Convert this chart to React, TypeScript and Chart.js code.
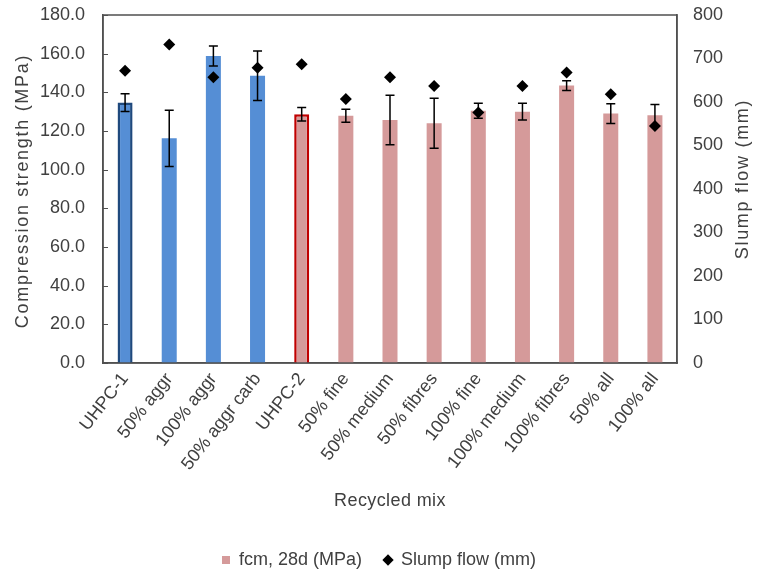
import React, { useEffect, useRef } from "react";
import { Chart, registerables } from "chart.js";

Chart.register(...registerables);

const categories = [
  "UHPC-1",
  "50% aggr",
  "100% aggr",
  "50% aggr carb",
  "UHPC-2",
  "50% fine",
  "50% medium",
  "50% fibres",
  "100% fine",
  "100% medium",
  "100% fibres",
  "50% all",
  "100% all",
];
const strength = [134.7, 116.2, 158.8, 148.6, 128.7, 127.9, 125.7, 124.0, 130.5, 130.0, 143.5, 129.0, 128.1];
const strengthErr = [4.6, 14.5, 5.2, 12.8, 3.5, 3.4, 12.8, 12.9, 3.9, 4.3, 2.5, 5.1, 5.6];
const slump = [672, 732, 657, 679, 687, 607, 657, 637, 576, 637, 668, 618, 545];
const groups = ["A", "A", "A", "A", "B", "B", "B", "B", "B", "B", "B", "B", "B"];
const references = [true, false, false, false, true, false, false, false, false, false, false, false, false];

const BLUE = "#558ED5";
const PINK = "#D59A9A";
const NAVY = "#1F497D";
const RED = "#C00000";
const TEXT = "#404040";
const AXIS = "#505050";
const FONT = "'Liberation Sans', Arial, sans-serif";

const barFill = groups.map((g) => (g === "A" ? BLUE : PINK));
const barBorder = groups.map((g, i) => (references[i] ? (g === "A" ? NAVY : RED) : "rgba(0,0,0,0)"));
const barBorderWidth = references.map((r) => (r ? 2.5 : 0));

const extrasPlugin = {
  id: "extras",
  afterDatasetDraw(chart: any, args: any) {
    if (args.index !== 0) return;
    const ctx = chart.ctx;
    const y = chart.scales.y;
    const meta = chart.getDatasetMeta(0);
    ctx.save();
    ctx.strokeStyle = "#000";
    ctx.lineWidth = 1.5;
    meta.data.forEach((bar: any, i: number) => {
      const top = y.getPixelForValue(strength[i] + strengthErr[i]);
      const bot = y.getPixelForValue(strength[i] - strengthErr[i]);
      const x = bar.x;
      ctx.beginPath();
      ctx.moveTo(x, top);
      ctx.lineTo(x, bot);
      ctx.moveTo(x - 4.5, top);
      ctx.lineTo(x + 4.5, top);
      ctx.moveTo(x - 4.5, bot);
      ctx.lineTo(x + 4.5, bot);
      ctx.stroke();
    });
    ctx.restore();
  },
  afterDraw(chart: any) {
    const ctx = chart.ctx;
    const a = chart.chartArea;
    const y = chart.scales.y;
    ctx.save();
    ctx.strokeStyle = AXIS;
    ctx.lineWidth = 1.5;
    ctx.strokeRect(a.left, a.top, a.right - a.left, a.bottom - a.top);
    ctx.beginPath();
    y.ticks.forEach((t: any) => {
      const py = Math.round(y.getPixelForValue(t.value)) + 0.5;
      ctx.moveTo(a.left, py);
      ctx.lineTo(a.left + 5, py);
    });
    ctx.lineWidth = 1;
    ctx.stroke();

    ctx.fillStyle = TEXT;
    ctx.font = `18px ${FONT}`;
    ctx.textAlign = "center";
    ctx.textBaseline = "middle";
    const midY = (a.top + a.bottom) / 2;
    (ctx as any).letterSpacing = "1.7px";
    ctx.save();
    ctx.translate(23, midY + 2);
    ctx.rotate(-Math.PI / 2);
    ctx.fillText("Compression strength (MPa)", 0, 0);
    ctx.restore();
    ctx.save();
    ctx.translate(743, midY - 10);
    ctx.rotate(-Math.PI / 2);
    ctx.fillText("Slump flow (mm)", 0, 0);
    ctx.restore();
    (ctx as any).letterSpacing = "0.4px";
    ctx.fillText("Recycled mix", (a.left + a.right) / 2, a.bottom + 138);
    ctx.restore();
  },
};

export default function App() {
  const ref = useRef<HTMLCanvasElement | null>(null);
  useEffect(() => {
    if (!ref.current) return;
    const chart = new Chart(ref.current, {
      data: {
        labels: categories,
        datasets: [
          {
            type: "bar",
            label: "fcm, 28d (MPa)",
            data: strength,
            backgroundColor: barFill,
            borderColor: barBorder,
            borderWidth: barBorderWidth,
            barPercentage: 0.34,
            categoryPercentage: 1,
            yAxisID: "y",
            order: 1,
          } as any,
          {
            type: "line",
            label: "Slump flow (mm)",
            data: slump,
            showLine: false,
            pointStyle: "rectRot",
            pointRadius: 6,
            pointBackgroundColor: "#000",
            pointBorderColor: "#000",
            pointBorderWidth: 0,
            yAxisID: "y1",
            order: 0,
          } as any,
        ],
      },
      options: {
        responsive: false,
        animation: false,
        layout: { padding: { top: 15, left: 0, right: 0, bottom: -10 } },
        plugins: {
          tooltip: { enabled: false },
          legend: {
            position: "bottom",
            labels: {
              usePointStyle: true,
              boxWidth: 8,
              boxHeight: 8,
              padding: 22,
              color: TEXT,
              font: { family: FONT, size: 18 },
              generateLabels: () => [
                { text: "fcm, 28d (MPa)", fillStyle: PINK, strokeStyle: PINK, lineWidth: 0, pointStyle: "rect", datasetIndex: 0, hidden: false, fontColor: TEXT },
                { text: "Slump flow (mm)", fillStyle: "#000", strokeStyle: "#000", lineWidth: 0, pointStyle: "rectRot", datasetIndex: 1, hidden: false, fontColor: TEXT },
              ],
            },
          },
        },
        scales: {
          x: {
            grid: { display: false, drawTicks: false },
            border: { display: true, color: AXIS, width: 1.5 },
            ticks: {
              color: TEXT,
              font: { family: FONT, size: 18 },
              minRotation: 52,
              maxRotation: 52,
              padding: 6,
              autoSkip: false,
            },
            afterFit: (s: any) => {
              s.height = 166;
              s.paddingLeft = 0;
              s.paddingRight = 0;
            },
          },
          y: {
            position: "left",
            min: 0,
            max: 180,
            grid: { display: false, drawTicks: false },
            border: { display: true, color: AXIS, width: 1.5 },
            ticks: {
              stepSize: 20,
              color: TEXT,
              font: { family: FONT, size: 18 },
              padding: 18,
              callback: (v: any) => Number(v).toFixed(1),
            },
            afterFit: (s: any) => {
              s.width = 103;
              s.paddingTop = 0;
              s.paddingBottom = 0;
            },
          },
          y1: {
            position: "right",
            min: 0,
            max: 800,
            grid: { display: false, drawTicks: false },
            border: { display: true, color: AXIS, width: 1.5 },
            ticks: {
              stepSize: 100,
              color: TEXT,
              font: { family: FONT, size: 18 },
              padding: 16,
            },
            afterFit: (s: any) => {
              s.width = 81;
              s.paddingTop = 0;
              s.paddingBottom = 0;
            },
          },
        },
      },
      plugins: [extrasPlugin],
    } as any);
    return () => chart.destroy();
  }, []);
  return (
    <div style={{ position: "absolute", left: 0, top: 0, width: 758, height: 569, background: "#fff" }}>
      <canvas ref={ref} width={758} height={569} />
    </div>
  );
}
